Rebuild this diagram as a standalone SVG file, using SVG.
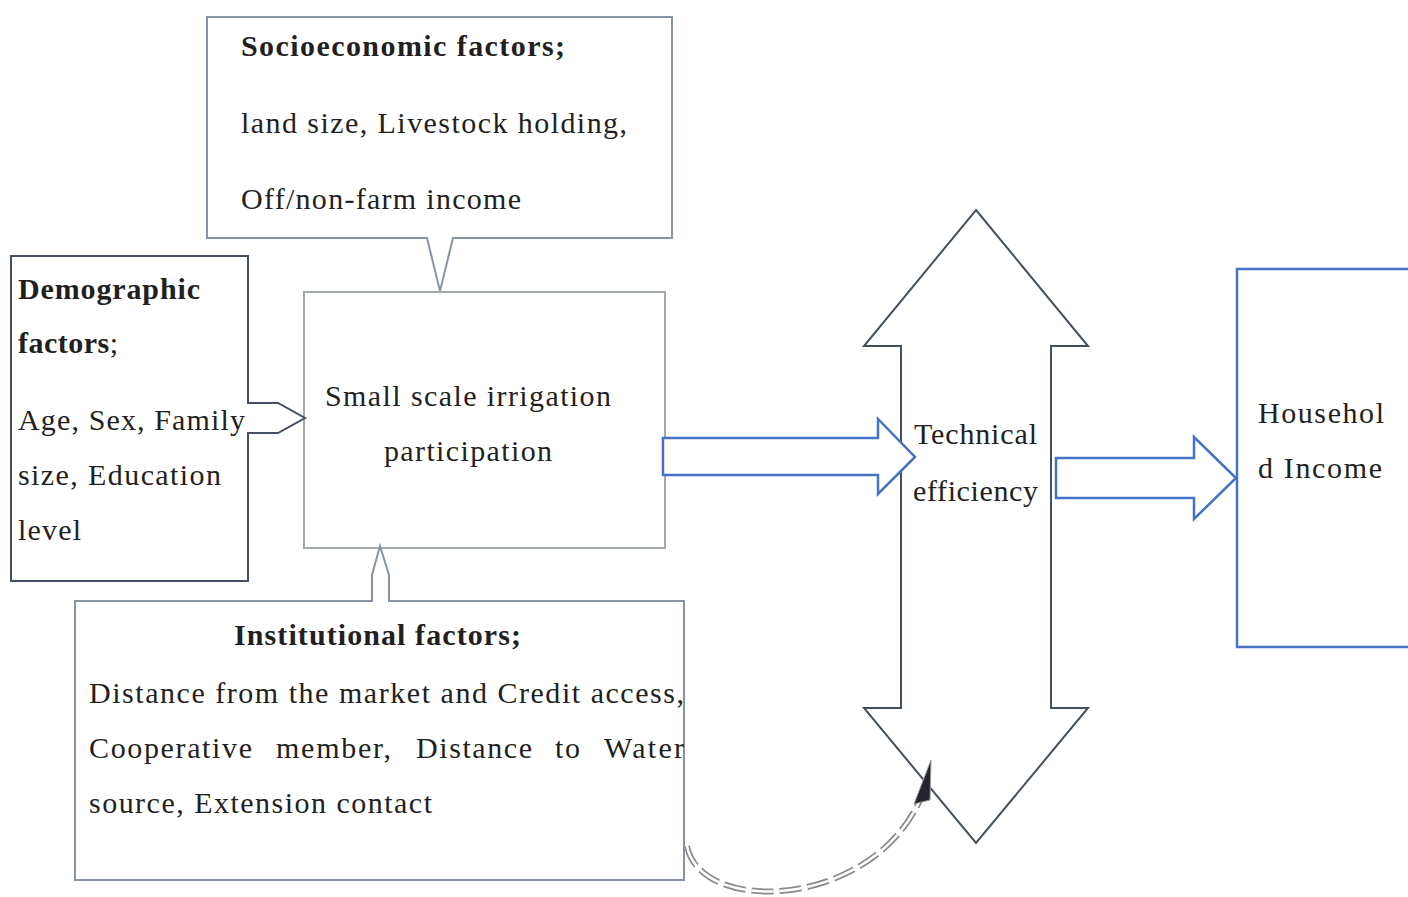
<svg xmlns="http://www.w3.org/2000/svg" width="1408" height="897" viewBox="0 0 1408 897">
<style>
text{font-family:"Liberation Serif","Times New Roman",serif;font-size:30px;fill:#231f20}
.b{font-weight:bold}
.slate{fill:#fff;stroke:#8893a6;stroke-width:2}
.dark{fill:#fff;stroke:#44505f;stroke-width:2}
.blue{fill:#fff;stroke:#4472c4;stroke-width:2.5}
</style>
<g id="socioeconomic">
<path class="slate" d="M207,17H672V238H453L440,291L427,238H207Z"/>
<text class="b" x="241" y="56" textLength="324" lengthAdjust="spacing">Socioeconomic factors;</text>
<text x="241" y="133" textLength="386" lengthAdjust="spacing">land size, Livestock holding,</text>
<text x="241" y="209" textLength="280" lengthAdjust="spacing">Off/non-farm income</text>
</g>
<g id="participation">
<rect x="304" y="292" width="361" height="256" fill="#fff" stroke="#a2aaa8" stroke-width="2"/>
<text x="325" y="406" textLength="286" lengthAdjust="spacing">Small scale irrigation</text>
<text x="384" y="461" textLength="168" lengthAdjust="spacing">participation</text>
</g>
<g id="demographic">
<path class="dark" d="M11,256H248V403H278L305,418L278,433H248V581H11Z"/>
<text class="b" x="18" y="299" textLength="182" lengthAdjust="spacing">Demographic</text>
<text x="18" y="353" textLength="100" lengthAdjust="spacing"><tspan class="b">factors</tspan>;</text>
<text x="18" y="430" textLength="227" lengthAdjust="spacing">Age, Sex, Family</text>
<text x="18" y="485" textLength="203" lengthAdjust="spacing">size, Education</text>
<text x="18" y="540" textLength="63" lengthAdjust="spacing">level</text>
</g>
<g id="institutional">
<path class="slate" d="M75,601H372V575L380,546L389,575V601H684V880H75Z"/>
<text class="b" x="234" y="645" textLength="287" lengthAdjust="spacing">Institutional factors;</text>
<text x="89" y="703" textLength="595" lengthAdjust="spacing">Distance from the market and Credit access,</text>
<text y="758"><tspan x="89" textLength="163" lengthAdjust="spacing">Cooperative</tspan><tspan x="276" textLength="115" lengthAdjust="spacing">member,</tspan><tspan x="416" textLength="116" lengthAdjust="spacing">Distance</tspan><tspan x="555" textLength="25" lengthAdjust="spacing">to</tspan><tspan x="604" textLength="80" lengthAdjust="spacing">Water</tspan></text>
<text x="89" y="813" textLength="343" lengthAdjust="spacing">source, Extension contact</text>
</g>
<g id="technical">
<path class="dark" d="M976,210L1088,346H1051V708H1088L976,843L864,708H901V346H864Z"/>
<text x="914" y="444" textLength="123" lengthAdjust="spacing">Technical</text>
<text x="913" y="501" textLength="125" lengthAdjust="spacing">efficiency</text>
</g>
<g id="household">
<rect x="1237" y="269" width="180" height="378" class="blue"/>
<text x="1258" y="423" textLength="126" lengthAdjust="spacing">Househol</text>
<text x="1258" y="478" textLength="124" lengthAdjust="spacing">d Income</text>
</g>
<g id="connectors">
<path class="blue" d="M663,438H878V419L915,457L878,494V475H663Z"/>
<path class="blue" d="M1056,458H1194V437L1236,478L1194,519V498H1056Z"/>
<path d="M687,846C700,915 870,910 920,800" fill="none" stroke="#8a8a8a" stroke-width="6" stroke-dasharray="22,6"/>
<path d="M687,846C700,915 870,910 920,800" fill="none" stroke="#fff" stroke-width="2.5" stroke-dasharray="22,6"/>
<path d="M931,760L914,804L930,800Z" fill="#25252f" stroke="#999" stroke-width="1"/>
</g>
</svg>
